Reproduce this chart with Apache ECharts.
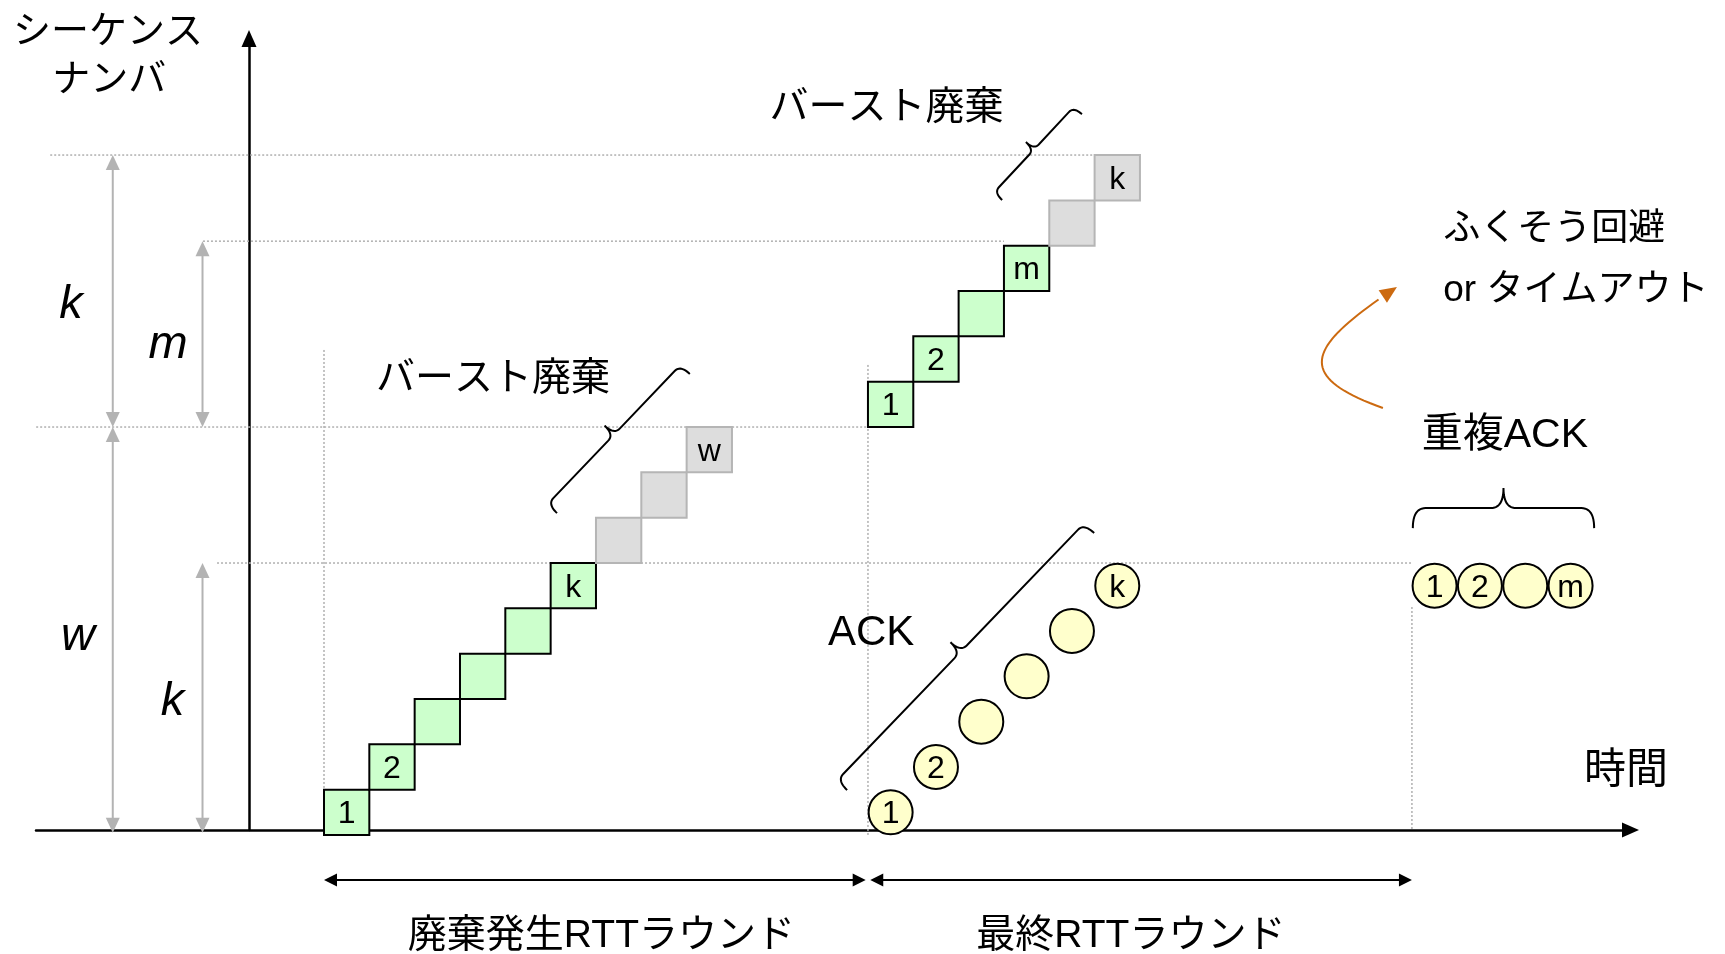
<!DOCTYPE html>
<html><head><meta charset="utf-8">
<script src="https://cdn.jsdelivr.net/npm/echarts@6/dist/echarts.min.js"></script>
<style>html,body{margin:0;padding:0;background:#fff}#c{width:1725px;height:954px}</style>
</head><body><div id="c"></div>
<script>
// ================= DATA =================
// sent segments (cell x = time slot, cell y = sequence slot)
const sentX = [0,1,2,3,4,5,6,7,8, 12,13,14,15,16,17];
const sentY = [0,1,2,3,4,5,6,7,8, 9,10,11,12,13,14];
const sentLabel = ['1','2','','','','k','','','w', '1','2','','m','','k'];
const sentLost = [false,false,false,false,false,false,true,true,true, false,false,false,false,true,true];
// ACKs of last RTT round
const ackX = [12.5,13.5,14.5,15.5,16.5,17.5];
const ackY = [0.5,1.5,2.5,3.5,4.5,5.5];
const ackLabel = ['1','2','','','','k'];
// duplicate ACKs
const dupX = [24.5,25.5,26.5,27.5];
const dupY = [5.5,5.5,5.5,5.5];
const dupLabel = ['1','2','','m'];
// sequence levels (dotted horizontal)
const levelY = [15, 13.1, 9, 6];
const levelFrom = [-6.04, -2.67, -6.35, -2.36];
const levelTo = [17, 15, 12, 24];
// RTT round boundaries (dotted vertical)
const roundX = [0, 12, 24];
const roundTop = [10.7, 10.37, 5.03];
const roundBottom = [0, -0.02, 0.11];
// dimension arrows (k, w, m, k)
const dimX = [-4.66, -4.66, -2.68, -2.68];
const dimTop = [15, 9, 13.1, 6];
const dimBottom = [9, 0.05, 9, 0.05];
// RTT round spans
const spanFrom = [0, 12.05];
const spanTo = [11.95, 24];
const spanY = -0.99;

// ================= ANNOTATION PLACEMENT =================
const texts = [
  {t:'シーケンス', x:-4.765, y:17.76, size:38},
  {t:'ナンバ', x:-4.74, y:16.70, size:38},
  {t:'k', x:-5.58, y:11.80, size:47, italic:true},
  {t:'m', x:-3.44, y:10.90, size:47, italic:true},
  {t:'w', x:-5.43, y:4.46, size:47, italic:true},
  {t:'k', x:-3.34, y:3.03, size:47, italic:true},
  {t:'バースト廃棄', x:3.73, y:10.11, size:39},
  {t:'バースト廃棄', x:12.41, y:16.10, size:39},
  {t:'ACK', x:12.07, y:4.52, size:42},
  {t:'重複ACK', x:26.05, y:8.87, size:41},
  {t:'ふくそう回避', x:24.69, y:13.42, size:37, align:'left'},
  {t:'or タイムアウト', x:24.69, y:12.07, size:37, align:'left'},
  {t:'時間', x:28.72, y:1.46, size:42},
  {t:'廃棄発生RTTラウンド', x:6.12, y:-2.16, size:39},
  {t:'最終RTTラウンド', x:17.80, y:-2.16, size:39}
];
const braces = [
  {x1:5.14, y1:7.10, x2:8.07, y2:10.17, depth:26},
  {x1:14.96, y1:14.01, x2:16.72, y2:15.90, depth:22},
  {x1:11.54, y1:0.99, x2:16.99, y2:6.66, depth:28},
  {x1:24.02, y1:6.77, x2:28.02, y2:6.77, depth:40}
];
const curveX = [23.36, 21.31, 21.75, 23.67];
const curveY = [9.42, 10.15, 10.81, 12.09];

// ================= LAYOUT =================
const U = 45.33, OX = 324, OY = 835;
const gridL = 36, gridR = 1630.5, gridT = 38.5, gridB = 830, yAxisPx = 249;
const FONT = '"Liberation Sans", "Noto Sans CJK JP", sans-serif';
const TEXT_DY = 3;

function sampleQuad(out, p0, c, p1, n){
  for (let i=1;i<=n;i++){const t=i/n,a=(1-t)*(1-t),b=2*(1-t)*t,d=t*t;
    out.push([a*p0[0]+b*c[0]+d*p1[0], a*p0[1]+b*c[1]+d*p1[1]]);}
}
function sampleCubic(out, p0, p1, p2, p3, n){
  for (let i=1;i<=n;i++){const t=i/n,a=(1-t)**3,b=3*(1-t)**2*t,c=3*(1-t)*t*t,d=t**3;
    out.push([a*p0[0]+b*p1[0]+c*p2[0]+d*p3[0], a*p0[1]+b*p1[1]+c*p2[1]+d*p3[1]]);}
}
function tri(tip, dir, len, hw){
  const bx=tip[0]-dir[0]*len, by=tip[1]-dir[1]*len, nx=-dir[1], ny=dir[0];
  return [[tip[0],tip[1]],[bx+nx*hw,by+ny*hw],[bx-nx*hw,by-ny*hw]];
}

const chart = echarts.init(document.getElementById('c'), null, {renderer:'canvas'});
const option = {
  animation: false,
  backgroundColor: '#ffffff',
  grid: {left: gridL, top: gridT, width: gridR-gridL, height: gridB-gridT},
  xAxis: {type:'value', min:(gridL-OX)/U, max:(gridR-OX)/U,
    axisLine:{show:true, onZero:false, symbol:['none','triangle'], symbolSize:[15,17], lineStyle:{color:'#000', width:2.5}},
    axisTick:{show:false}, axisLabel:{show:false}, splitLine:{show:false}},
  yAxis: {type:'value', min:(OY-gridB)/U, max:(OY-gridT)/U, offset: gridL - yAxisPx,
    axisLine:{show:true, onZero:false, symbol:['none','triangle'], symbolSize:[15,17], lineStyle:{color:'#000', width:2.5}},
    axisTick:{show:false}, axisLabel:{show:false}, splitLine:{show:false}},
  series: [
    { // dotted level lines
      type:'custom', silent:true, clip:false, z:1,
      data: levelY.map((y,i)=>[levelFrom[i], y, levelTo[i]]),
      renderItem(params, api){
        const p1=api.coord([api.value(0), api.value(1)]), p2=api.coord([api.value(2), api.value(1)]);
        return {type:'line', shape:{x1:p1[0],y1:p1[1],x2:p2[0],y2:p2[1]}, style:{stroke:'#b0b0b0', lineWidth:1.5, lineDash:[2,2]}};
      }
    },
    { // dotted round boundaries
      type:'custom', silent:true, clip:false, z:1,
      data: roundX.map((x,i)=>[x, roundTop[i], roundBottom[i]]),
      renderItem(params, api){
        const p1=api.coord([api.value(0), api.value(1)]), p2=api.coord([api.value(0), api.value(2)]);
        return {type:'line', shape:{x1:p1[0],y1:p1[1],x2:p2[0],y2:p2[1]}, style:{stroke:'#b0b0b0', lineWidth:1.5, lineDash:[2,2]}};
      }
    },
    { // gray dimension arrows
      type:'custom', silent:true, clip:false, z:2,
      data: dimX.map((x,i)=>[x, dimTop[i], dimBottom[i]]),
      renderItem(params, api){
        const pt=api.coord([api.value(0), api.value(1)]), pb=api.coord([api.value(0), api.value(2)]);
        const L=15, W=7, col='#b3b3b3';
        return {type:'group', children:[
          {type:'line', shape:{x1:pt[0],y1:pt[1]+L-1,x2:pb[0],y2:pb[1]-L+1}, style:{stroke:col, lineWidth:2}},
          {type:'polygon', shape:{points:tri(pt,[0,-1],L,W)}, style:{fill:col}},
          {type:'polygon', shape:{points:tri(pb,[0,1],L,W)}, style:{fill:col}}
        ]};
      }
    },
    { // RTT round spans
      type:'custom', silent:true, clip:false, z:2,
      data: spanFrom.map((x,i)=>[x, spanY, spanTo[i]]),
      renderItem(params, api){
        const pl=api.coord([api.value(0), api.value(1)]), pr=api.coord([api.value(2), api.value(1)]);
        const L=13, W=6.5;
        return {type:'group', children:[
          {type:'line', shape:{x1:pl[0]+L-1,y1:pl[1],x2:pr[0]-L+1,y2:pr[1]}, style:{stroke:'#000', lineWidth:2}},
          {type:'polygon', shape:{points:tri(pl,[-1,0],L,W)}, style:{fill:'#000'}},
          {type:'polygon', shape:{points:tri(pr,[1,0],L,W)}, style:{fill:'#000'}}
        ]};
      }
    },
    { // segments
      type:'custom', silent:true, clip:false, z:3,
      data: sentX.map((x,i)=>[x, sentY[i]]),
      renderItem(params, api){
        const i=params.dataIndex, x=api.value(0), y=api.value(1);
        const p0=api.coord([x, y+1]), p1=api.coord([x+1, y]);
        const lost=sentLost[i];
        return {type:'group', children:[
          {type:'rect', shape:{x:p0[0], y:p0[1], width:p1[0]-p0[0], height:p1[1]-p0[1]},
            style:{fill: lost?'#dddddd':'#ccffcc', stroke: lost?'#b5b5b5':'#000000', lineWidth:2}},
          {type:'text', style:{text:sentLabel[i], x:(p0[0]+p1[0])/2, y:(p0[1]+p1[1])/2+2, align:'center', verticalAlign:'middle',
            fontSize:32, fontFamily:FONT, fill:'#000'}}
        ]};
      }
    },
    { type:'scatter', silent:true, clip:false, z:3,
      data: ackX.map((x,i)=>[x, ackY[i]]), symbol:'circle', symbolSize:44,
      itemStyle:{color:'#ffffcc', borderColor:'#000', borderWidth:2, opacity:1},
      label:{show:true, position:'inside', offset:[0,2], formatter:p=>ackLabel[p.dataIndex], fontSize:32, fontFamily:FONT, color:'#000'}
    },
    { type:'scatter', silent:true, clip:false, z:3,
      data: dupX.map((x,i)=>[x, dupY[i]]), symbol:'circle', symbolSize:44,
      itemStyle:{color:'#ffffcc', borderColor:'#000', borderWidth:2, opacity:1},
      label:{show:true, position:'inside', offset:[0,2], formatter:p=>dupLabel[p.dataIndex], fontSize:32, fontFamily:FONT, color:'#000'}
    },
    { // braces
      type:'custom', silent:true, clip:false, z:4,
      data: braces.map((b,i)=>[b.x1, b.y1]),
      renderItem(params, api){
        const b=braces[params.dataIndex];
        const a=api.coord([b.x1,b.y1]), e=api.coord([b.x2,b.y2]);
        const dx=e[0]-a[0], dy=e[1]-a[1], L=Math.hypot(dx,dy), t=[dx/L,dy/L], n=[t[1],-t[0]];
        const h=b.depth, hh=h/2, r=h*0.32;
        const P=(u,v)=>[a[0]+u*t[0]+v*n[0], a[1]+u*t[1]+v*n[1]];
        const pts=[P(0,0)];
        sampleQuad(pts, P(0,0), P(0,hh), P(r,hh), 12);
        pts.push(P(L/2-r,hh));
        sampleQuad(pts, P(L/2-r,hh), P(L/2,hh), P(L/2,h), 12);
        sampleQuad(pts, P(L/2,h), P(L/2,hh), P(L/2+r,hh), 12);
        pts.push(P(L-r,hh));
        sampleQuad(pts, P(L-r,hh), P(L,hh), P(L,0), 12);
        return {type:'polyline', shape:{points:pts}, style:{stroke:'#000', lineWidth:2, fill:'none'}};
      }
    },
    { // orange curved arrow
      type:'custom', silent:true, clip:false, z:4,
      data: [[curveX[0], curveY[0]]],
      renderItem(params, api){
        const p=curveX.map((x,i)=>api.coord([x, curveY[i]]));
        const pts=[p[0]]; sampleCubic(pts, p[0],p[1],p[2],p[3], 40);
        const dx=p[3][0]-p[2][0], dy=p[3][1]-p[2][1], l=Math.hypot(dx,dy);
        const col='#cc6a10';
        return {type:'group', children:[
          {type:'polyline', shape:{points:pts.slice(0,-3)}, style:{stroke:col, lineWidth:2, fill:'none'}},
          {type:'polygon', shape:{points:tri(p[3],[dx/l,dy/l],17,7.5)}, style:{fill:col}}
        ]};
      }
    },
    { // texts
      type:'custom', silent:true, clip:false, z:5,
      data: texts.map(t=>[t.x, t.y]),
      renderItem(params, api){
        const t=texts[params.dataIndex];
        const p=api.coord([t.x, t.y]);
        return {type:'text', style:{text:t.t, x:p[0], y:p[1] + TEXT_DY + (t.italic?1.5:0), align:t.align||'center', verticalAlign:'middle',
          fontSize:t.size, fontFamily:FONT, fontStyle:t.italic?'italic':'normal', fill:'#000'}};
      }
    }
  ]
};
chart.setOption(option);
</script>
</body></html>
